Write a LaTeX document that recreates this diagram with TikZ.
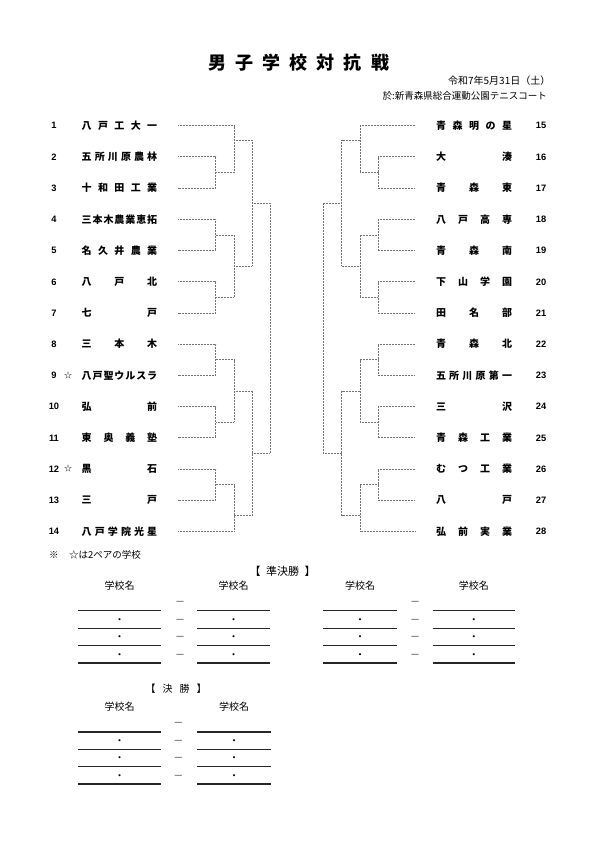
\documentclass[tikz,border=0pt]{standalone}
\usepackage{fontspec}
\setmainfont{Noto Sans CJK JP}
\newfontfamily\numfont{Liberation Sans}
\newcommand{\scoreblock}[6]{%
  % #1,#2 left line x ; #3,#4 right line x ; #5 dash x ; #6 header y
  \node[jt] at ({(#1+#2)/2},{#6+3.8}) {学校名};
  \node[jt] at ({(#3+#4)/2},{#6+3.8}) {学校名};
  \foreach \oy/\lw in {25.4/1.5, 42.8/0.9, 60.2/0.9, 77.6/1.4} {
    \draw[rule, line width=\lw pt] (#1,{#6+\oy}) -- (#2,{#6+\oy});
    \draw[rule, line width=\lw pt] (#3,{#6+\oy}) -- (#4,{#6+\oy});
  }
  \foreach \oy in {16.7, 34.1, 51.6, 69.1} {
    \node[jt, text=black!75] at (#5,{#6+\oy+3.6}) {－};
  }
  \foreach \oy in {34.1, 51.6, 69.1} {
    \node[jt] at ({(#1+#2)/2},{#6+\oy+3.6}) {・};
    \node[jt] at ({(#3+#4)/2},{#6+\oy+3.6}) {・};
  }
}
\begin{document}
\begin{tikzpicture}[x=1pt,y=-1pt,
  jt/.style={inner sep=0pt, outer sep=0pt, anchor=base, font=\fontsize{10}{12}\selectfont},
  namel/.style={inner sep=0pt, outer sep=0pt, anchor=base west, font=\fontsize{10}{12}\selectfont\bfseries},
  numl/.style={inner sep=0pt, outer sep=0pt, anchor=base, font=\fontsize{9.3}{11}\selectfont\numfont\bfseries},
  br/.style={draw=black!55, line width=0.8pt, dash pattern=on 0.8pt off 0.7pt},
  rule/.style={draw=black!85}]
\fill[white] (0,0) rectangle (595,842);
\useasboundingbox (0,0) rectangle (595,842);

% title and header lines
\node[inner sep=0pt, anchor=base, font=\fontsize{18}{20}\selectfont\bfseries] (title) at (298.8,69.3)
  {\makebox[180.5pt][s]{男\hfill 子\hfill 学\hfill 校\hfill 対\hfill 抗\hfill 戦}};
\node[inner sep=0pt, anchor=base east, font=\fontsize{10}{12}\selectfont] (date) at (550.5,84.4) {令和7年5月31日（土）};
\node[inner sep=0pt, anchor=base east, font=\fontsize{9.5}{11}\selectfont] (venue) at (547,99.8) {於:新青森県総合運動公園テニスコート};

% left names
\foreach \i/\nm in {
  1/{八\hfill 戸\hfill 工\hfill 大\hfill 一},
  2/{五\hfill 所\hfill 川\hfill 原\hfill 農\hfill 林},
  3/{十\hfill 和\hfill 田\hfill 工\hfill 業},
  4/{三\hfill 本\hfill 木\hfill 農\hfill 業\hfill 恵\hfill 拓},
  5/{名\hfill 久\hfill 井\hfill 農\hfill 業},
  6/{八\hfill 戸\hfill 北},
  7/{七\hfill 戸},
  8/{三\hfill 本\hfill 木},
  9/{八\hfill 戸\hfill 聖\hfill ウ\hfill ル\hfill ス\hfill ラ},
  10/{弘\hfill 前},
  11/{東\hfill 奥\hfill 義\hfill 塾},
  12/{黒\hfill 石},
  13/{三\hfill 戸},
  14/{八\hfill 戸\hfill 学\hfill 院\hfill 光\hfill 星}} {
  \pgfmathsetmacro{\ry}{125.7+31.2*(\i-1)}
  \node[namel] (n\i) at (81.7,\ry+3.8) {\makebox[75.5pt][s]{\nm}};
  \node[numl] (k\i) at (54,\ry+3.3) {\i};
  \coordinate (a\i) at (178,\ry);
}
% right names
\foreach \i/\nm in {
  15/{青\hfill 森\hfill 明\hfill の\hfill 星},
  16/{大\hfill 湊},
  17/{青\hfill 森\hfill 東},
  18/{八\hfill 戸\hfill 高\hfill 専},
  19/{青\hfill 森\hfill 南},
  20/{下\hfill 山\hfill 学\hfill 園},
  21/{田\hfill 名\hfill 部},
  22/{青\hfill 森\hfill 北},
  23/{五\hfill 所\hfill 川\hfill 原\hfill 第\hfill 一},
  24/{三\hfill 沢},
  25/{青\hfill 森\hfill 工\hfill 業},
  26/{む\hfill つ\hfill 工\hfill 業},
  27/{八\hfill 戸},
  28/{弘\hfill 前\hfill 実\hfill 業}} {
  \pgfmathsetmacro{\ry}{125.7+31.2*(\i-15)}
  \node[namel] (n\i) at (436,\ry+3.8) {\makebox[76pt][s]{\nm}};
  \node[numl] (k\i) at (541,\ry+3.3) {\i};
  \coordinate (a\i) at (415,\ry);
}
% stars
\node[jt, font=\fontsize{8}{10}\selectfont] (s9) at (68,{125.7+31.2*8+3.0}) {☆};
\node[jt, font=\fontsize{8}{10}\selectfont] (s12) at (68,{125.7+31.2*11+3.0}) {☆};

% left bracket
\coordinate (J23) at (215.7,172.5);
\coordinate (J45) at (215.7,234.9);
\coordinate (J67) at (215.7,297.3);
\coordinate (J89) at (215.7,359.7);
\coordinate (J1011) at (215.7,422.1);
\coordinate (J1213) at (215.7,484.5);
\coordinate (K1) at (234,140.5);
\coordinate (K47) at (234,266.1);
\coordinate (K811) at (234,390.9);
\coordinate (K1214) at (234,515.7);
\coordinate (L17) at (252,203.3);
\coordinate (L814) at (252,453.3);
\coordinate (ML) at (270,328.3);
\draw[br] (a2) -| (J23) |- (a3);
\draw[br] (a4) -| (J45) |- (a5);
\draw[br] (a6) -| (J67) |- (a7);
\draw[br] (a8) -| (J89) |- (a9);
\draw[br] (a10) -| (J1011) |- (a11);
\draw[br] (a12) -| (J1213) |- (a13);
\draw[br] (a1) -| (K1) |- (J23);
\draw[br] (J45) -| (K47) |- (J67);
\draw[br] (J89) -| (K811) |- (J1011);
\draw[br] (J1213) -| (K1214) |- (a14);
\draw[br] (K1) -| (L17) |- (K47);
\draw[br] (K811) -| (L814) |- (K1214);
\draw[br] (L17) -| (ML) |- (L814);

% right bracket
\coordinate (R1617) at (378.3,172.5);
\coordinate (R1819) at (378.3,234.9);
\coordinate (R2021) at (378.3,297.3);
\coordinate (R2223) at (378.3,359.7);
\coordinate (R2425) at (378.3,422.1);
\coordinate (R2627) at (378.3,484.5);
\coordinate (S15) at (360,140.5);
\coordinate (S1821) at (360,266.1);
\coordinate (S2225) at (360,390.9);
\coordinate (S2628) at (360,515.7);
\coordinate (T1521) at (341.7,203.3);
\coordinate (T2228) at (341.7,453.3);
\coordinate (MR) at (323.3,328.3);
\draw[br] (a16) -| (R1617) |- (a17);
\draw[br] (a18) -| (R1819) |- (a19);
\draw[br] (a20) -| (R2021) |- (a21);
\draw[br] (a22) -| (R2223) |- (a23);
\draw[br] (a24) -| (R2425) |- (a25);
\draw[br] (a26) -| (R2627) |- (a27);
\draw[br] (a15) -| (S15) |- (R1617);
\draw[br] (R1819) -| (S1821) |- (R2021);
\draw[br] (R2223) -| (S2225) |- (R2425);
\draw[br] (R2627) -| (S2628) |- (a28);
\draw[br] (S15) -| (T1521) |- (S1821);
\draw[br] (S2225) -| (T2228) |- (S2628);
\draw[br] (T1521) -| (MR) |- (T2228);

% note
\node[inner sep=0pt, anchor=base west, font=\fontsize{9.5}{11}\selectfont] (note1) at (49,558.6) {※};
\node[inner sep=0pt, anchor=base west, font=\fontsize{9.5}{11}\selectfont] (note2) at (69,558.6) {☆は2ペアの学校};

% semifinal
\node[inner sep=0pt, anchor=base, font=\fontsize{11}{13}\selectfont] (semi) at (282.5,575.8)
  {\makebox[66pt][s]{【\hfill 準決勝\hfill 】}};
\scoreblock{78.3}{160.7}{197.3}{270}{180}{585.3}
\scoreblock{323.3}{396.7}{432.7}{515}{415}{585.3}

% final
\node[inner sep=0pt, anchor=base, font=\fontsize{10}{12}\selectfont] (fin) at (176,692.1)
  {\makebox[61pt][s]{【\hfill 決\hfill 勝\hfill 】}};
\scoreblock{78.3}{160.7}{197.3}{270.7}{178.3}{706.5}
\end{tikzpicture}
\end{document}
